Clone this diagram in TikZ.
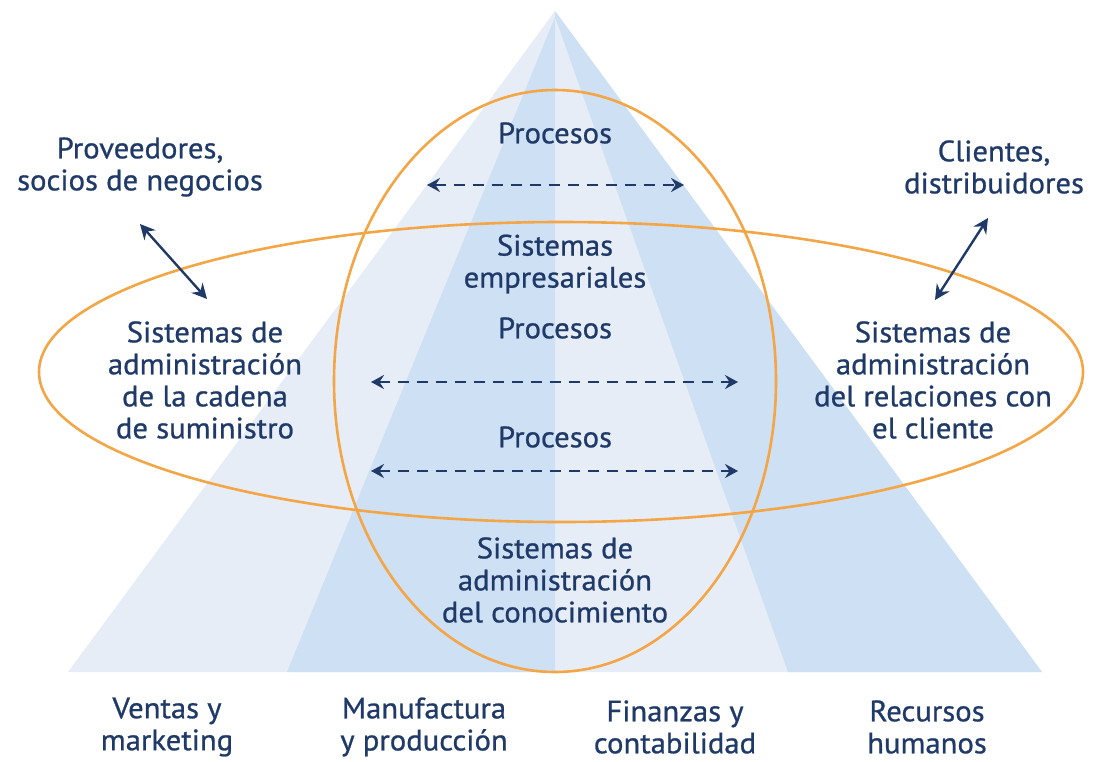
\documentclass[tikz,border=0pt]{standalone}
\usepackage{fontspec}
\setmainfont{PT Sans}[FakeStretch=1.04,FakeBold=0.8]
\usetikzlibrary{arrows.meta}
\definecolor{facelight}{HTML}{E6EDF7}
\definecolor{facedark}{HTML}{CEE0F3}
\definecolor{ring}{HTML}{F4A545}
\definecolor{ink}{HTML}{1F3A68}
\begin{document}
\begin{tikzpicture}[x=1pt,y=-1pt,
  lbl/.style={text=ink,font=\fontsize{29.5}{32}\selectfont,align=center,inner sep=0pt},
  flow/.style={ink,line width=2.5pt,dash pattern=on 11pt off 8pt,
    {Stealth[length=13pt,width=14pt,inset=4.5pt]}-{Stealth[length=13pt,width=14pt,inset=4.5pt]}},
  link/.style={ink,line width=2.4pt,
    {Stealth[length=15pt,width=15pt,inset=5pt]}-{Stealth[length=15pt,width=15pt,inset=5pt]}},
  orb/.style={ring,line width=2.6pt}]
\useasboundingbox (0,0) rectangle (1097,761);
% pyramid faces
\fill[facelight] (555,11) -- (1042,672) -- (68,672) -- cycle;
\fill[facedark] (555,17) -- (555,672) -- (287,672) -- cycle;
\fill[facedark] (555,11) -- (1042,672) -- (788,672) -- (555,17) -- cycle;
% overlapping system rings
\draw[orb] (561,372) ellipse [x radius=522,y radius=150];
\draw[orb] (555,381) ellipse [x radius=221,y radius=291];
% labels
\node[lbl] (p1) at (555,133) {Procesos};
\node[lbl] (emp) at (555,264) {Sistemas\\empresariales};
\node[lbl] (p2) at (555,328) {Procesos};
\node[lbl] (p3) at (555,437) {Procesos};
\node[lbl] (km) at (555,580) {Sistemas de\\administración\\del conocimiento};
\node[lbl] (scm) at (205,380) {Sistemas de\\administración\\de la cadena\\de suministro};
\node[lbl] (crm) at (933,380) {Sistemas de\\administración\\del relaciones con\\el cliente};
\node[lbl] (prov) at (140,167) {Proveedores,\\socios de negocios};
\node[lbl] (cli) at (994,167) {Clientes,\\distribuidores};
\node[lbl] (ventas) at (167,727) {Ventas y\\marketing};
\node[lbl] (manu) at (424,727) {Manufactura\\y producción};
\node[lbl] (fin) at (675,727) {Finanzas y\\contabilidad};
\node[lbl] (rh) at (927,727) {Recursos\\humanos};
% process flows
\coordinate (a1) at (427,185); \coordinate (b1) at (684,185);
\coordinate (a2) at (371,382); \coordinate (b2) at (738,382);
\coordinate (a3) at (371,471); \coordinate (b3) at (738,471);
\draw[flow] (a1) -- (b1);
\draw[flow] (a2) -- (b2);
\draw[flow] (a3) -- (b3);
% external links
\coordinate (l1) at (140,224); \coordinate (l2) at (207,299);
\coordinate (r1) at (988,218); \coordinate (r2) at (935,300);
\draw[link] (l1) -- (l2);
\draw[link] (r1) -- (r2);
\end{tikzpicture}
\end{document}
